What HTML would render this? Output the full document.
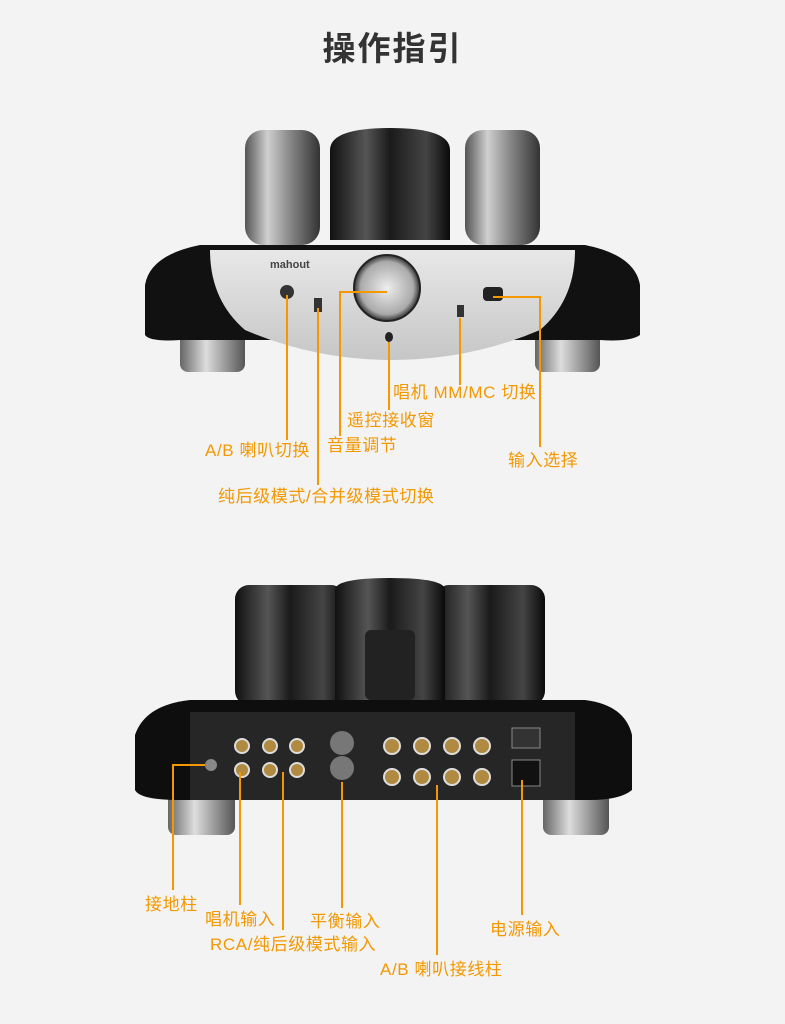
<!DOCTYPE html>
<html><head><meta charset="utf-8"><style>
html,body{margin:0;padding:0;background:#f3f3f3;}
body{width:785px;height:1024px;position:relative;overflow:hidden;font-family:"Liberation Sans","Noto Sans CJK SC",sans-serif;}
.t{position:absolute;color:#f39800;font-size:17px;letter-spacing:0.6px;white-space:nowrap;line-height:20px;}
h1{position:absolute;left:0;width:785px;top:22px;margin:0;text-align:center;font-size:33px;font-weight:bold;color:#333;letter-spacing:2px;}
svg{position:absolute;left:0;top:0;}
</style></head><body>
<h1>操作指引</h1>
<svg width="785" height="1024" viewBox="0 0 785 1024">
<defs>
<linearGradient id="tube" x1="0" x2="1"><stop offset="0" stop-color="#555"/><stop offset=".3" stop-color="#cfcfcf"/><stop offset=".6" stop-color="#888"/><stop offset="1" stop-color="#333"/></linearGradient>
<linearGradient id="blk" x1="0" x2="1"><stop offset="0" stop-color="#111"/><stop offset=".3" stop-color="#555"/><stop offset=".5" stop-color="#1a1a1a"/><stop offset=".8" stop-color="#444"/><stop offset="1" stop-color="#0a0a0a"/></linearGradient>
<linearGradient id="foot" x1="0" x2="1"><stop offset="0" stop-color="#666"/><stop offset=".4" stop-color="#ddd"/><stop offset="1" stop-color="#555"/></linearGradient>
<linearGradient id="silver" x1="0" y1="0" x2="0" y2="1"><stop offset="0" stop-color="#e8e8e8"/><stop offset="1" stop-color="#c6c6c6"/></linearGradient>
<radialGradient id="knob"><stop offset="0" stop-color="#eee"/><stop offset=".8" stop-color="#aaa"/><stop offset="1" stop-color="#333"/></radialGradient>
</defs>
<rect x="180" y="330" width="65" height="42" rx="8" fill="url(#foot)"/>
<rect x="535" y="330" width="65" height="42" rx="8" fill="url(#foot)"/>
<rect x="245" y="130" width="75" height="115" rx="18" fill="url(#tube)"/>
<rect x="465" y="130" width="75" height="115" rx="18" fill="url(#tube)"/>
<path d="M330 240 V150 Q330 128 390 128 Q450 128 450 150 V240Z" fill="url(#blk)"/>
<path d="M145 285 Q150 255 200 245 L585 245 Q635 255 640 285 L640 335 Q630 342 600 340 L180 340 Q150 342 145 335Z" fill="#111"/>
<path d="M210 250 L575 250 Q575 300 540 330 Q470 360 392 360 Q315 360 245 330 Q210 300 210 250Z" fill="url(#silver)"/>
<circle cx="387" cy="288" r="33" fill="url(#knob)" stroke="#222" stroke-width="2"/>
<circle cx="287" cy="292" r="7" fill="#333"/>
<rect x="314" y="298" width="8" height="14" fill="#333"/>
<rect x="457" y="305" width="7" height="12" fill="#333"/>
<rect x="483" y="287" width="20" height="14" rx="4" fill="#222"/>
<ellipse cx="389" cy="337" rx="4" ry="5" fill="#222"/>
<text x="270" y="268" font-size="11" fill="#444" font-weight="bold">mahout</text>
<rect x="168" y="790" width="67" height="45" rx="8" fill="url(#foot)"/>
<rect x="543" y="790" width="66" height="45" rx="8" fill="url(#foot)"/>
<rect x="235" y="585" width="110" height="120" rx="14" fill="url(#blk)"/>
<rect x="435" y="585" width="110" height="120" rx="14" fill="url(#blk)"/>
<path d="M335 700 V590 Q335 578 390 578 Q445 578 445 590 V700Z" fill="url(#blk)"/>
<rect x="365" y="630" width="50" height="70" rx="6" fill="#222"/>
<path d="M190 700 L585 700 Q625 705 632 735 L632 790 Q620 800 590 800 L180 800 Q140 800 135 790 L135 735 Q145 705 190 700Z" fill="#0e0e0e"/>
<rect x="190" y="712" width="385" height="88" fill="#262626"/>
<g fill="#b08a40" stroke="#ddd" stroke-width="2">
<circle cx="242" cy="746" r="7"/><circle cx="270" cy="746" r="7"/><circle cx="297" cy="746" r="7"/>
<circle cx="242" cy="770" r="7"/><circle cx="270" cy="770" r="7"/><circle cx="297" cy="770" r="7"/>
<circle cx="392" cy="746" r="8"/><circle cx="422" cy="746" r="8"/><circle cx="452" cy="746" r="8"/><circle cx="482" cy="746" r="8"/>
<circle cx="392" cy="777" r="8"/><circle cx="422" cy="777" r="8"/><circle cx="452" cy="777" r="8"/><circle cx="482" cy="777" r="8"/>
</g>
<circle cx="342" cy="743" r="12" fill="#777"/><circle cx="342" cy="768" r="12" fill="#777"/>
<circle cx="211" cy="765" r="6" fill="#888"/>
<rect x="512" y="728" width="28" height="20" fill="#333" stroke="#888"/>
<rect x="512" y="760" width="28" height="26" fill="#111" stroke="#888"/>
<g stroke="#f39800" stroke-width="2" fill="none">
<path d="M287 295 V440"/>
<path d="M318 308 V485"/>
<path d="M387 292 H340 V436"/>
<path d="M389 342 V410"/>
<path d="M460 318 V385"/>
<path d="M493 297 H540 V447"/>
<path d="M205 765 H173 V890"/>
<path d="M240 772 V905"/>
<path d="M283 772 V930"/>
<path d="M342 782 V908"/>
<path d="M437 785 V955"/>
<path d="M522 780 V915"/>
</g>
</svg>
<div class="t" style="left:393px;top:383px">唱机 MM/MC 切换</div>
<div class="t" style="left:347px;top:411px">遥控接收窗</div>
<div class="t" style="left:327px;top:436px">音量调节</div>
<div class="t" style="left:205px;top:441px">A/B 喇叭切换</div>
<div class="t" style="left:508px;top:451px">输入选择</div>
<div class="t" style="left:218px;top:487px">纯后级模式/合并级模式切换</div>
<div class="t" style="left:145px;top:895px">接地柱</div>
<div class="t" style="left:205px;top:910px">唱机输入</div>
<div class="t" style="left:310px;top:912px">平衡输入</div>
<div class="t" style="left:210px;top:935px">RCA/纯后级模式输入</div>
<div class="t" style="left:490px;top:920px">电源输入</div>
<div class="t" style="left:380px;top:960px">A/B 喇叭接线柱</div>
</body></html>
